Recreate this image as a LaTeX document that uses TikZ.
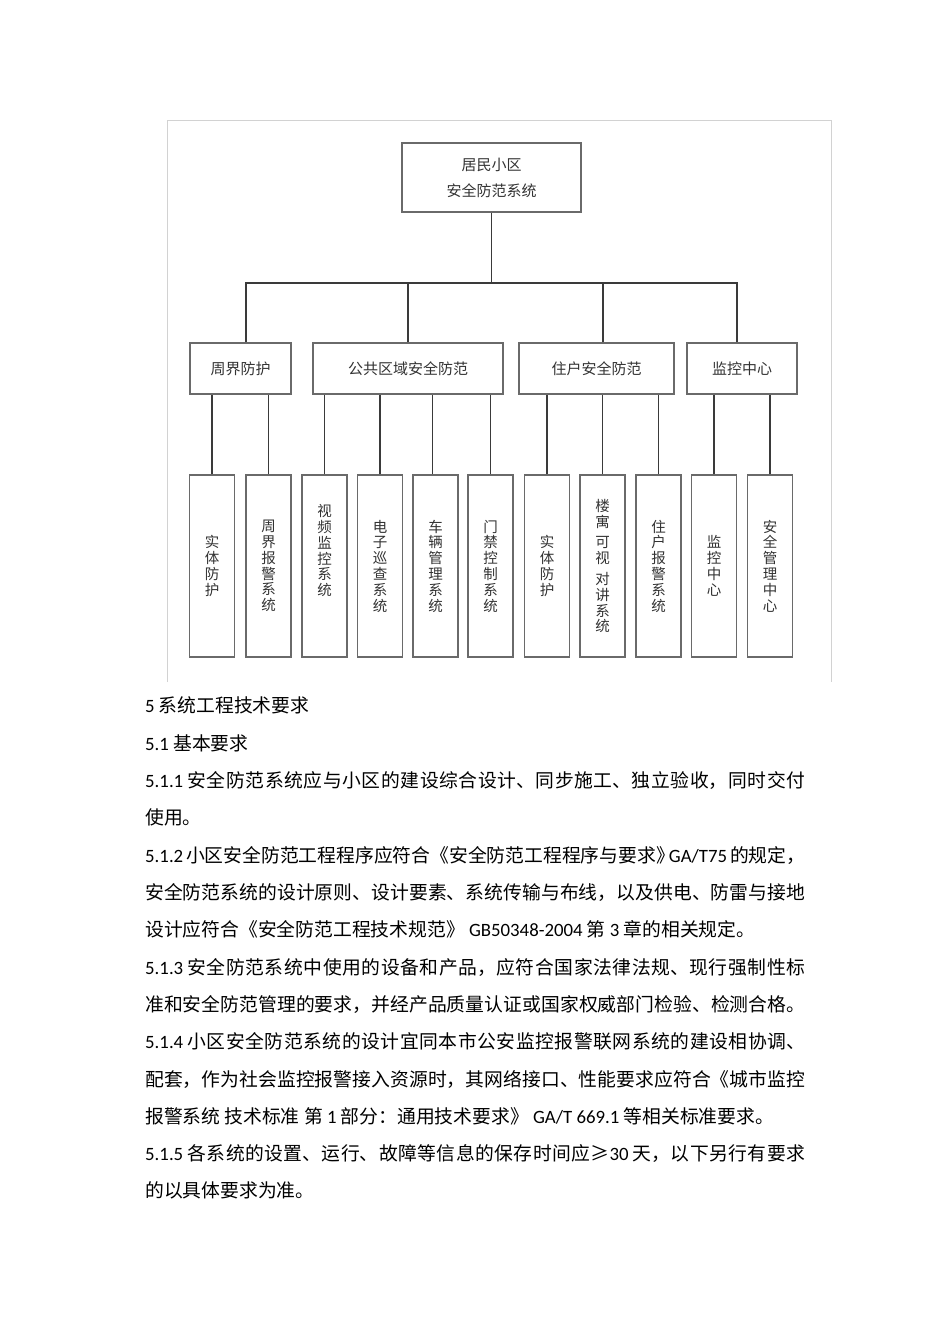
\documentclass[tikz,border=0pt]{standalone}
\usepackage{fontspec}
\setmainfont{Noto Sans CJK SC}
\newfontfamily\latfont{Carlito}
\usepackage{xcolor}
\usepackage{tikz}
\usetikzlibrary{positioning}

\definecolor{framegray}{HTML}{D2D2D2}
\definecolor{boxgray}{HTML}{6A6A6A}
\definecolor{linegray}{HTML}{3A3A3A}

\newcommand{\lat}[1]{{\latfont #1}}
\newcommand{\jline}[1]{\parbox[b]{660pt}{\XeTeXlinebreaklocale "zh"\XeTeXlinebreakskip=0pt plus 1fil\XeTeXlinebreakpenalty=10000
    \tolerance=10000\hfuzz=30pt\parindent=0pt\parfillskip=0pt #1}}

\begin{document}
\begin{tikzpicture}[x=1pt, y=-1pt,
    box/.style={draw=boxgray, line width=1.1pt, text=black!80, inner sep=0pt,
        minimum height=51pt, font=\fontsize{15}{26}\selectfont, align=center},
    leaf/.style={draw=boxgray, line width=1.1pt, text=black!80, inner sep=0pt,
        minimum width=45pt, minimum height=182pt, font=\fontsize{14.5}{15.8}\selectfont, align=center},
    link/.style={draw=linegray, line width=1.1pt},
    body/.style={anchor=base west, inner sep=0pt, text=black, font=\fontsize{18.8}{22}\selectfont}]
        \useasboundingbox (0,0) rectangle (950,1344);
        \fill[white] (0,0) rectangle (950,1344);

        % The frame round the chart
        \draw[framegray, line width=0.8pt] (167,682) -- (167,120) -- (831,120) -- (831,682);

        % Top of the tree
        \node[box, minimum width=179pt, minimum height=69pt] (root) at (491.5,177.5) {居民小区\\安全防范系统};
        \coordinate (hub) at (491.5,283);

        % Second level
        \node[box, minimum width=101pt] (zj) at (240.5,368.5) {周界防护};
        \node[box, minimum width=190pt] (gg) at (408,368.5) {公共区域安全防范};
        \node[box, minimum width=155pt] (zh) at (596.5,368.5) {住户安全防范};
        \node[box, minimum width=110pt] (jk) at (742,368.5) {监控中心};

        \draw[link] (root.south) -- (hub);
        \draw[link] ([xshift=5.5pt]zj.north) |- (hub);
        \draw[link] (gg.north) |- (hub);
        \draw[link] ([xshift=6.5pt]zh.north) |- (hub);
        \draw[link] ([xshift=-5pt]jk.north) |- (hub);

        % Leaves
        \node[leaf] (zj1) at (212,566) {实\\体\\防\\护};
        \node[leaf] (zj2) at (268.5,566) {周\\界\\报\\警\\系\\统};
        \node[leaf] (gg1) at (324.5,566) {视\\频\\监\\控\\系\\统\\~\\~};
        \node[leaf] (gg2) at (380,566) {电\\子\\巡\\查\\系\\统};
        \node[leaf] (gg3) at (435.5,566) {车\\辆\\管\\理\\系\\统};
        \node[leaf] (gg4) at (490.5,566) {门\\禁\\控\\制\\系\\统};
        \node[leaf] (zh1) at (547,566) {实\\体\\防\\护};
        \node[leaf] (zh2) at (602.5,566) {楼\\寓\\[5pt]可\\视\\[5pt]对\\讲\\系\\统};
        \node[leaf] (zh3) at (658.5,566) {住\\户\\报\\警\\系\\统};
        \node[leaf] (jk1) at (714,566) {监\\控\\中\\心};
        \node[leaf] (jk2) at (770,566) {安\\全\\管\\理\\中\\心};

        \draw[link] (zj1.north) -- (zj1.north |- zj.south);
        \draw[link] (zj2.north) -- (zj2.north |- zj.south);
        \draw[link] (gg1.north) -- (gg1.north |- gg.south);
        \draw[link] (gg2.north) -- (gg2.north |- gg.south);
        \draw[link] ([xshift=-3pt]gg3.north) -- ([xshift=-3pt]gg3.north |- gg.south);
        \draw[link] (gg4.north) -- (gg4.north |- gg.south);
        \draw[link] (zh1.north) -- (zh1.north |- zh.south);
        \draw[link] (zh2.north) -- (zh2.north |- zh.south);
        \draw[link] (zh3.north) -- (zh3.north |- zh.south);
        \draw[link] (jk1.north) -- (jk1.north |- jk.south);
        \draw[link] (jk2.north) -- (jk2.north |- jk.south);

        % Text under the chart
        \node[body] (t1) at (145,712) {\lat{5 }系统工程技术要求};
        \node[body] (t2) at (145,750) {\lat{5.1 }基本要求};
        \node[body] (t3) at (145,787) {\jline{\lat{5.1.1~}安全防范系统应与小区的建设综合设计、同步施工、独立验收，同时交付}};
        \node[body] (t4) at (145,824) {使用。};
        \node[body] (t5) at (145,862) {\jline{\lat{5.1.2~}小区安全防范工程程序应符合《安全防范工程程序与要求》\kern-6pt\lat{GA/T75~}的规定，}};
        \node[body] (t6) at (145,899) {\jline{安全防范系统的设计原则、设计要素、系统传输与布线，以及供电、防雷与接地}};
        \node[body] (t7) at (145,936) {设计应符合《安全防范工程技术规范》\lat{ GB50348-2004 }第\lat{ 3 }章的相关规定。};
        \node[body] (t8) at (145,974) {\jline{\lat{5.1.3~}安全防范系统中使用的设备和产品，应符合国家法律法规、现行强制性标}};
        \node[body] (t9) at (145,1011) {\jline{准和安全防范管理的要求，并经产品质量认证或国家权威部门检验、检测合格。}};
        \node[body] (t10) at (145,1048) {\jline{\lat{5.1.4~}小区安全防范系统的设计宜同本市公安监控报警联网系统的建设相协调、}};
        \node[body] (t11) at (145,1086) {\jline{配套，作为社会监控报警接入资源时，其网络接口、性能要求应符合《城市监控}};
        \node[body] (t12) at (145,1123) {报警系统 技术标准 第\lat{ 1 }部分：通用技术要求》\lat{ GA/T 669.1 }等相关标准要求。};
        \node[body] (t13) at (145,1160) {\jline{\lat{5.1.5~}各系统的设置、运行、故障等信息的保存时间应≥\lat{30~}天，以下另行有要求}};
        \node[body] (t14) at (145,1197) {的以具体要求为准。};
\end{tikzpicture}
\end{document}
